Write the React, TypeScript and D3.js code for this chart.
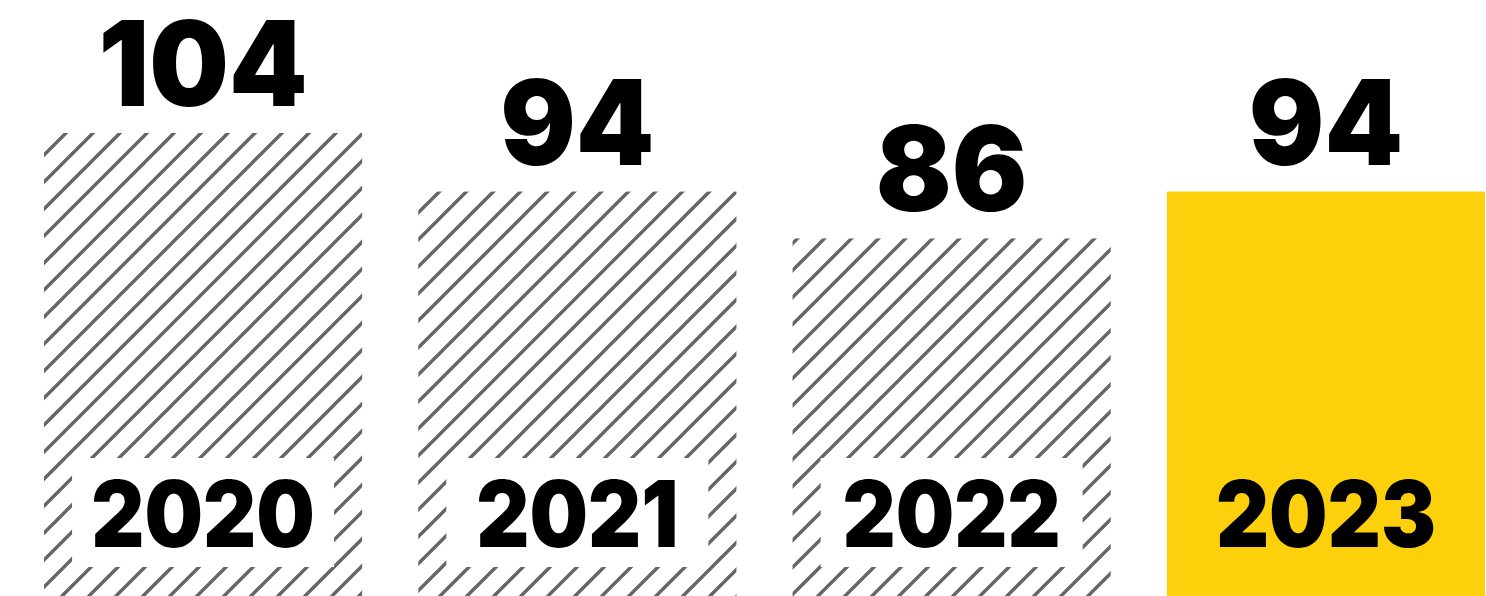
import React from "react";
import * as d3 from "d3";

const years = ["2020", "2021", "2022", "2023"];
const values = [104, 94, 86, 94];
const highlight = [false, false, false, true];

const W = 1486;
const H = 596;

export default function App() {
  const x = d3.scaleBand<string>().domain(years).range([44, 1485]).paddingInner(0.15).paddingOuter(0);
  const y = d3.scaleLinear().domain([0, 110]).range([742.4, 742.4 - 5.86 * 110]);
  const bw = x.bandwidth();
  const font = "Inter, 'Liberation Sans', Arial, sans-serif";
  const s = 27;
  return (
    <svg width={W} height={H} style={{ position: "absolute", left: 0, top: 0, background: "#fff" }}>
      <defs>
        <pattern id="hatch" patternUnits="userSpaceOnUse" x={10} y={0} width={s} height={s}>
          <path
            d={`M0,${s} L${s},0 M${-s / 2},${s / 2} L${s / 2},${-s / 2} M${s / 2},${s * 1.5} L${s * 1.5},${s / 2}`}
            stroke="#666"
            strokeWidth={3.4}
            fill="none"
          />
        </pattern>
      </defs>
      {years.map((yr, i) => {
        const bx = x(yr)!;
        const top = y(values[i]);
        const cx = bx + bw / 2;
        return (
          <g key={yr}>
            <rect x={bx} y={top} width={bw} height={H - top} fill={highlight[i] ? "#FCD00A" : "url(#hatch)"} />
            <text
              x={0}
              y={0}
              transform={`translate(${cx},${top - 27}) scale(0.95,1)`}
              textAnchor="middle"
              fontFamily={font}
              fontWeight={900}
              fontSize={118}
              fill="#000"
            >
              {values[i]}
            </text>
            {!highlight[i] && <rect x={cx - 131} y={458} width={262} height={109} fill="#fff" />}
            <text
              x={0}
              y={0}
              transform={`translate(${cx},547) scale(0.895,1)`}
              textAnchor="middle"
              fontFamily={font}
              fontWeight={900}
              fontSize={92}
              fill="#000"
            >
              {yr}
            </text>
          </g>
        );
      })}
    </svg>
  );
}
